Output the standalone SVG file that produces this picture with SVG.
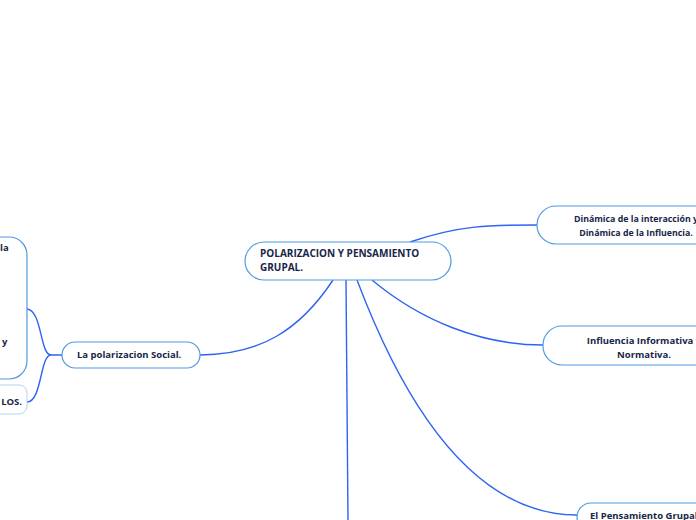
<svg xmlns="http://www.w3.org/2000/svg" width="696" height="520" viewBox="0 0 696 520">
<style>
.n{fill:#fff;stroke:#4f9be0;stroke-width:1.2}
.n2{fill:#fff;stroke:#b5d3ee;stroke-width:1}
.t{font-family:"Open Sans","Noto Sans",sans-serif;font-weight:700;font-size:9.5px;fill:#172647}
.c{fill:none;stroke:#2f63f2;stroke-width:1.4}
</style>
<rect width="696" height="520" fill="#fff"/>
<g id="connectors">
<path class="c" d="M333,280 C300,330 260,355 200,355"/>
<path class="c" d="M410,242 C460,225 490,225 537,225"/>
<path class="c" d="M372,280 C420,320 480,345 543,345"/>
<path class="c" d="M357,280 C410,420 480,515 577,515"/>
<path class="c" d="M346,280 C347,360 348,440 348,520"/>
<path class="c" d="M62,355 L51,355 C40,355 42,310 27,309"/>
<path class="c" d="M51,355 C40,355 42,402 27,402"/>
</g>
<g id="central">
<rect class="n" x="245" y="242" width="206" height="38" rx="19"/>
<text class="t" x="260" y="257" style="font-size:10px">POLARIZACION Y PENSAMIENTO</text>
<text class="t" x="260" y="271" style="font-size:10px">GRUPAL.</text>
</g>
<g id="polarizacion">
<rect class="n" x="62" y="342" width="138" height="26" rx="13"/>
<text class="t" x="77" y="358">La polarizacion Social.</text>
</g>
<g id="left-big">
<rect class="n" x="-120" y="237" width="147" height="142" rx="18"/>
<text class="t" x="0" y="251">la</text>
<text class="t" x="2" y="345">y</text>
</g>
<g id="left-small">
<rect class="n2" x="-100" y="385" width="127" height="29" rx="8"/>
<text class="t" x="22" y="405" text-anchor="end">LOS.</text>
</g>
<g id="dinamica">
<rect class="n" x="537" y="206" width="200" height="38" rx="19"/>
<text class="t" x="636" y="222" text-anchor="middle" style="font-size:8.8px">Dinámica de la interacción y</text>
<text class="t" x="636" y="236" text-anchor="middle" style="font-size:8.8px">Dinámica de la Influencia.</text>
</g>
<g id="influencia">
<rect class="n" x="543" y="326" width="200" height="39" rx="19"/>
<text class="t" x="644" y="344" text-anchor="middle">Influencia Informativa y</text>
<text class="t" x="644" y="358" text-anchor="middle">Normativa.</text>
</g>
<g id="pensamiento">
<rect class="n" x="577" y="503" width="180" height="28" rx="14"/>
<text class="t" x="590" y="519">El Pensamiento Grupal</text>
</g>
</svg>
